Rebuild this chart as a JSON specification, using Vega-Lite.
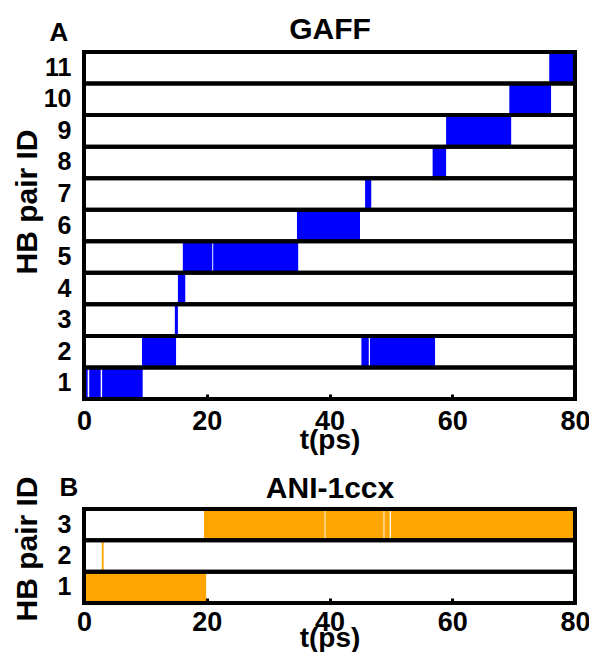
{
  "$schema": "https://vega.github.io/schema/vega-lite/v6.json",
  "padding": {"left": 11, "top": 14, "right": 0, "bottom": 0},
  "bounds": "flush",
  "spacing": 110,
  "config": {
    "view": {"stroke": null},
    "font": "Liberation Sans",
    "axis": {
      "grid": false,
      "labelFont": "Liberation Sans",
      "titleFont": "Liberation Sans",
      "labelFontWeight": "bold",
      "titleFontWeight": "bold",
      "labelColor": "black",
      "titleColor": "black"
    }
  },
  "datasets": {
    "gaff": [
      {"id": 1, "start": 0, "end": 0.6},
      {"id": 1, "start": 0.85, "end": 2.72},
      {"id": 1, "start": 2.95, "end": 9.56},
      {"id": 2, "start": 9.45, "end": 15.0},
      {"id": 2, "start": 45.2, "end": 46.4},
      {"id": 2, "start": 46.6, "end": 57.2},
      {"id": 3, "start": 14.8, "end": 15.3},
      {"id": 4, "start": 15.3, "end": 16.5},
      {"id": 5, "start": 16.1, "end": 20.9},
      {"id": 5, "start": 21.05, "end": 34.9},
      {"id": 6, "start": 34.7, "end": 44.97},
      {"id": 7, "start": 45.8, "end": 46.8},
      {"id": 8, "start": 56.8, "end": 59.0},
      {"id": 9, "start": 59.0, "end": 69.6},
      {"id": 10, "start": 69.3, "end": 76.1},
      {"id": 11, "start": 75.8, "end": 80}
    ],
    "ani": [
      {"id": 1, "start": 0, "end": 19.9},
      {"id": 2, "start": 2.9, "end": 3.2},
      {"id": 3, "start": 19.55, "end": 39.2},
      {"id": 3, "start": 39.35, "end": 48.8},
      {"id": 3, "start": 48.95, "end": 49.8},
      {"id": 3, "start": 50.0, "end": 80}
    ],
    "gaff_rows": [
      {"id": 1}, {"id": 2}, {"id": 3}, {"id": 4}, {"id": 5}, {"id": 6},
      {"id": 7}, {"id": 8}, {"id": 9}, {"id": 10}, {"id": 11}
    ],
    "ani_rows": [{"id": 1}, {"id": 2}, {"id": 3}]
  },
  "vconcat": [
    {
      "width": 491,
      "height": 347,
      "layer": [
        {
          "data": {"name": "gaff"},
          "mark": {"type": "rect", "color": "#0000ff"},
          "encoding": {
            "x": {
              "field": "start",
              "type": "quantitative",
              "scale": {"domain": [0, 80], "nice": false, "zero": false},
              "axis": {
                "orient": "bottom",
                "values": [0, 20, 40, 60, 80],
                "format": "d",
                "title": "t(ps)",
                "titleFontSize": 28,
                "titleY": 49,
                "titleBaseline": "alphabetic",
                "labelFontSize": 27,
                "labelBaseline": "alphabetic",
                "labelPadding": 35,
                "labelFlush": false,
                "labelOverlap": false,
                "tickSize": -5,
                "tickWidth": 3,
                "tickColor": "black",
                "domain": false
              }
            },
            "x2": {"field": "end"},
            "y": {
              "field": "id",
              "type": "ordinal",
              "scale": {"domain": [11, 10, 9, 8, 7, 6, 5, 4, 3, 2, 1], "paddingInner": 0, "paddingOuter": 0},
              "axis": {
                "orient": "left",
                "title": "HB pair ID",
                "titleFontSize": 30,
                "titleX": -48,
                "titleY": 149.5,
                "titleAngle": -90,
                "titleAlign": "center",
                "titleBaseline": "alphabetic",
                "labelFontSize": 25,
                "labelPadding": 13,
                "labelBaseline": "middle",
                "ticks": false,
                "domain": false
              }
            }
          }
        },
        {
          "data": {"name": "gaff_rows"},
          "mark": {"type": "rect", "filled": false, "stroke": "black", "strokeWidth": 4},
          "encoding": {
            "x": {
              "datum": 0,
              "type": "quantitative",
              "axis": {
                "orient": "top",
                "title": "GAFF",
                "titleFontSize": 30,
                "titleY": -14,
                "titleBaseline": "alphabetic",
                "labels": false,
                "ticks": false,
                "domain": false
              }
            },
            "x2": {"datum": 80},
            "y": {
              "field": "id",
              "type": "ordinal",
              "axis": {
                "orient": "left",
                "title": "A",
                "titleFontSize": 26,
                "titleAngle": 0,
                "titleX": -35,
                "titleY": -12,
                "titleAlign": "left",
                "titleBaseline": "alphabetic",
                "labels": false,
                "ticks": false,
                "domain": false
              }
            }
          }
        }
      ],
      "resolve": {"axis": {"x": "independent", "y": "independent"}}
    },
    {
      "width": 491,
      "height": 94,
      "layer": [
        {
          "data": {"name": "ani"},
          "mark": {"type": "rect", "color": "#ffa500"},
          "encoding": {
            "x": {
              "field": "start",
              "type": "quantitative",
              "scale": {"domain": [0, 80], "nice": false, "zero": false},
              "axis": {
                "orient": "bottom",
                "values": [0, 20, 40, 60, 80],
                "format": "d",
                "title": "t(ps)",
                "titleFontSize": 28,
                "titleY": 43,
                "titleBaseline": "alphabetic",
                "labelFontSize": 27,
                "labelBaseline": "alphabetic",
                "labelPadding": 32,
                "labelFlush": false,
                "labelOverlap": false,
                "tickSize": -5,
                "tickWidth": 3,
                "tickColor": "black",
                "domain": false
              }
            },
            "x2": {"field": "end"},
            "y": {
              "field": "id",
              "type": "ordinal",
              "scale": {"domain": [3, 2, 1], "paddingInner": 0, "paddingOuter": 0},
              "axis": {
                "orient": "left",
                "title": "HB pair ID",
                "titleFontSize": 30,
                "titleX": -48,
                "titleY": 39.5,
                "titleAngle": -90,
                "titleAlign": "center",
                "titleBaseline": "alphabetic",
                "labelFontSize": 25,
                "labelPadding": 13,
                "labelBaseline": "middle",
                "ticks": false,
                "domain": false
              }
            }
          }
        },
        {
          "data": {"name": "ani_rows"},
          "mark": {"type": "rect", "filled": false, "stroke": "black", "strokeWidth": 4},
          "encoding": {
            "x": {
              "datum": 0,
              "type": "quantitative",
              "axis": {
                "orient": "top",
                "title": "ANI-1ccx",
                "titleFontSize": 30,
                "titleY": -12,
                "titleBaseline": "alphabetic",
                "labels": false,
                "ticks": false,
                "domain": false
              }
            },
            "x2": {"datum": 80},
            "y": {
              "field": "id",
              "type": "ordinal",
              "axis": {
                "orient": "left",
                "title": "B",
                "titleFontSize": 26,
                "titleAngle": 0,
                "titleX": -25,
                "titleY": -14,
                "titleAlign": "left",
                "titleBaseline": "alphabetic",
                "labels": false,
                "ticks": false,
                "domain": false
              }
            }
          }
        }
      ],
      "resolve": {"axis": {"x": "independent", "y": "independent"}}
    }
  ]
}
